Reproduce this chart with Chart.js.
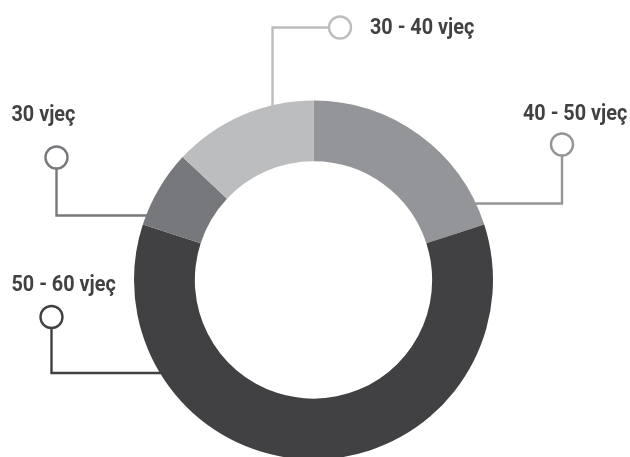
<!DOCTYPE html>
<html>
<head>
<meta charset="utf-8">
<script src="https://cdn.jsdelivr.net/npm/chart.js@4.4.1/dist/chart.umd.min.js"></script>
<style>
  html, body { margin: 0; padding: 0; background: #ffffff; overflow: hidden; }
  #wrap { position: relative; width: 630px; height: 457px; }
</style>
</head>
<body>
<div id="wrap"><canvas id="chart" width="630" height="457"></canvas></div>
<script>
// Age groups and their shares (percent), clockwise from 12 o'clock
const categories = ['40 - 50 vjeç', '50 - 60 vjeç', '30 vjeç', '30 - 40 vjeç'];
const shares = [20, 60, 7, 13];
const segmentColors = ['#939598', '#414042', '#77787b', '#bcbdbf'];

// Callout styling per segment: ring marker position, elbow and text anchor
const callouts = [
  { circle: [562, 144.5], elbow: [562, 203.5], dir: 'h', text: [523, 119.5], line: '#939598' },
  { circle: [51.5, 317], elbow: [51.5, 373], dir: 'h', text: [11.5, 290.5], line: '#414042' },
  { circle: [56.5, 157.5], elbow: [56.5, 215.5], dir: 'h', text: [11.5, 120.5], line: '#77787b' },
  { circle: [340, 27.5], elbow: [272.5, 27.5], dir: 'v', text: [370, 33.5], line: '#bcbdbf' }
];

// Labels are set in a narrowed bold face
const labelFont = 'bold 22px Roboto, "Liberation Sans", sans-serif';
const labelCondense = 0.9;

const calloutPlugin = {
  id: 'callouts',
  beforeDatasetsDraw(chart) {
    const ctx = chart.ctx;
    const arcs = chart.getDatasetMeta(0).data;
    ctx.save();
    callouts.forEach((c, i) => {
      const arc = arcs[i];
      const R = arc.outerRadius;
      const [cx, cy] = c.circle;
      const [ex, ey] = c.elbow;
      const r = 11;
      ctx.strokeStyle = c.line;
      ctx.lineWidth = 2.4;
      ctx.beginPath();
      if (c.dir === 'h') {
        // marker above, drop down to the elbow, then run to the ring edge
        const dy = ey - arc.y;
        const half = Math.sqrt(Math.max(R * R - dy * dy, 0));
        const ringX = ex < arc.x ? arc.x - half + 6 : arc.x + half - 6;
        ctx.moveTo(cx, cy + r);
        ctx.lineTo(ex, ey);
        ctx.lineTo(ringX, ey);
      } else {
        // marker to the right, run left to the elbow, then down to the ring edge
        const dx = ex - arc.x;
        const half = Math.sqrt(Math.max(R * R - dx * dx, 0));
        const ringY = arc.y - half + 6;
        ctx.moveTo(cx - r, cy);
        ctx.lineTo(ex, ey);
        ctx.lineTo(ex, ringY);
      }
      ctx.stroke();
      ctx.beginPath();
      ctx.arc(cx, cy, r, 0, Math.PI * 2);
      ctx.fillStyle = '#ffffff';
      ctx.fill();
      ctx.stroke();
    });
    ctx.restore();
  },
  afterDraw(chart) {
    const ctx = chart.ctx;
    callouts.forEach((c, i) => {
      ctx.save();
      ctx.fillStyle = '#414042';
      ctx.textBaseline = 'alphabetic';
      ctx.textAlign = 'left';
      ctx.font = labelFont;
      ctx.translate(c.text[0], c.text[1]);
      ctx.scale(labelCondense, 1);
      ctx.fillText(chart.data.labels[i], 0, 0);
      ctx.restore();
    });
  }
};

new Chart(document.getElementById('chart'), {
  type: 'doughnut',
  data: {
    labels: categories,
    datasets: [{
      data: shares,
      backgroundColor: segmentColors,
      borderWidth: 0,
      hoverOffset: 0
    }]
  },
  options: {
    responsive: false,
    animation: false,
    events: [],
    radius: 179.5,
    cutout: 117,
    layout: { padding: { top: 103, right: 3, left: 0, bottom: 0 } },
    plugins: { legend: { display: false }, tooltip: { enabled: false } }
  },
  plugins: [calloutPlugin]
});
</script>
</body>
</html>
